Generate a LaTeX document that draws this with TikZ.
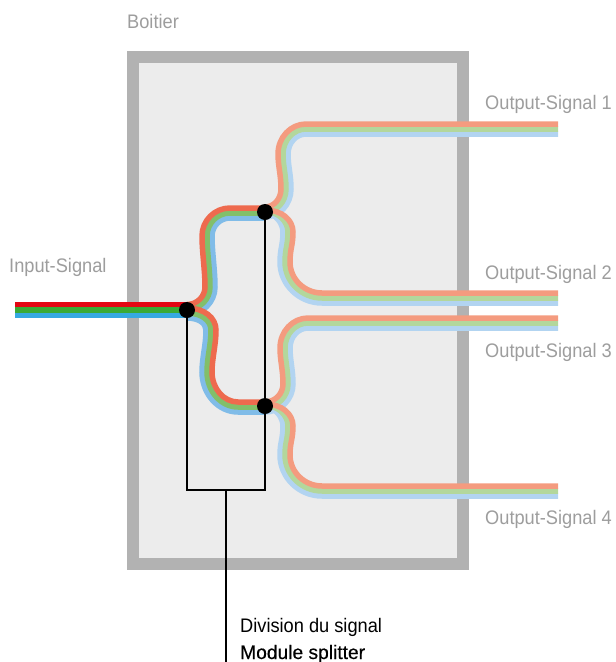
\documentclass[tikz,border=0pt]{standalone}
\usepackage{fontspec}
\setmainfont{Liberation Sans}[FakeStretch=0.93]
\newfontfamily\heavyfont{Liberation Sans}[FakeStretch=0.98,FakeBold=0.35]
\definecolor{wallc}{HTML}{B2B2B2}
\definecolor{innerc}{HTML}{ECECEC}
\definecolor{rA}{HTML}{E30613}\definecolor{gA}{HTML}{3AAA35}\definecolor{bA}{HTML}{36A9E1}
\definecolor{rB}{HTML}{EE6A4E}\definecolor{gB}{HTML}{82BF6A}\definecolor{bB}{HTML}{80BCE8}
\definecolor{rC}{HTML}{F49B7F}\definecolor{gC}{HTML}{B3D79C}\definecolor{bC}{HTML}{B2D4F1}
\definecolor{labelc}{HTML}{9D9D9D}
\tikzset{
 stripe/.style={line width=5.5pt,line cap=butt},
 dotnode/.style={circle,fill=black,inner sep=0pt,minimum size=16pt},
 lab/.style={anchor=base west,inner sep=0pt,text=labelc,font=\fontsize{19.6}{21}\selectfont},
 blab/.style={anchor=base west,inner sep=0pt,text=black,font=\fontsize{19.6}{21}\selectfont},
 hlab/.style={anchor=base west,inner sep=0pt,text=black,font=\heavyfont\fontsize{19.6}{21}\selectfont},
 wire/.style={draw=black,line width=1.9pt},
}
% #1 colour, #2 offset of the stripe across the band
\newcommand\branchUp[2]{\draw[stripe,#1]
 (187,{304.5+#2}) .. controls ({187+.55*(18+#2)},{304.5+#2}) and ({205+#2},{287+.55*(17.5+#2)}) .. ({205+#2},287)
 .. controls ({205+#2},270) and ({202+#2},252) .. ({202+#2},236)
 .. controls ({202+#2},{236-.55*(28-#2)}) and ({230-.55*(28-#2)},{208+#2}) .. (230,{208+#2}) -- (265,{208+#2});}
\newcommand\branchDown[2]{\draw[stripe,#1]
 (187,{308+#2}) .. controls ({190+.55*(26-#2)},{308+#2}) and ({216-#2},{330-.55*(22-#2)}) .. ({216-#2},330)
 .. controls ({216-#2},345) and ({212-#2},358) .. ({212-#2},372)
 .. controls ({212-#2},{372+.55*(30+#2)}) and ({238-.55*(26+#2)},{402+#2}) .. (238,{402+#2}) -- (265,{402+#2});}
% stripes that rise to an output: #3 start height, #4 output height, #5 x of the lower vertical
\newcommand\outRise[5]{\draw[stripe,#1]
 (265,{#3+#2}) .. controls ({265+.55*(#5-265+#2)},{#3+#2}) and ({#5+#2},{#3-18+.55*(18+#2)}) .. ({#5+#2},{#3-18})
 .. controls ({#5+#2},{#3-32}) and ({#5-3+#2},{#4+42}) .. ({#5-3+#2},{#4+30})
 .. controls ({#5-3+#2},{#4+30-.55*(30-#2)}) and ({#5+25-.55*(28-#2)},{#4+#2}) .. ({#5+25},{#4+#2}) -- (558,{#4+#2});}
% stripes that fall to an output: #3 start height, #4 output height
\newcommand\outFall[4]{\draw[stripe,#1]
 (265,{#3+1+.3*#2}) .. controls ({265+.6*(28-#2)},{#3+1+.3*#2}) and ({293-#2},{#3+23-.55*(22-.7*#2)}) .. ({293-#2},{#3+23})
 .. controls ({293-#2},{#3+36}) and ({290-#2},{#4-44}) .. ({290-#2},{#4-31})
 .. controls ({290-#2},{#4-31+.55*(31+#2)}) and ({322-.55*(32+#2)},{#4+#2}) .. (322,{#4+#2}) -- (558,{#4+#2});}
\begin{document}
\begin{tikzpicture}[x=1pt,y=-1pt]
\useasboundingbox (0,0) rectangle (616,662);
\draw[wallc,fill=innerc,line width=12pt] (133,57) rectangle (463,564);
% input
\draw[stripe,rA] (15,304.7) -- (187,304.7);
\draw[stripe,gA] (15,310) -- (187,310);
\draw[stripe,bA] (15,315.3) -- (187,315.3);
% branches
\branchUp{bB}{10}\branchUp{gB}{5}\branchUp{rB}{0}
\branchDown{bB}{10}\branchDown{gB}{5}\branchDown{rB}{0}
% outputs
\outRise{bC}{10}{207}{124}{281}\outRise{gC}{5}{207}{124}{281}\outRise{rC}{0}{207}{124}{281}
\outFall{bC}{10}{209}{293}\outFall{gC}{5}{209}{293}\outFall{rC}{0}{209}{293}
\outRise{bC}{10}{402}{318}{283}\outRise{gC}{5}{402}{318}{283}\outRise{rC}{0}{402}{318}{283}
\outFall{bC}{10}{403}{486}\outFall{gC}{5}{403}{486}\outFall{rC}{0}{403}{486}
% splitters
\node[dotnode] (s1) at (187,310) {};
\node[dotnode] (s2) at (265,212) {};
\node[dotnode] (s3) at (265,406) {};
\coordinate (c1) at (187,490);
\coordinate (c2) at (265,490);
\coordinate (j) at (226,490);
\coordinate (e) at (226,662);
\draw[wire] (s1.center) -- (c1) -- (c2) -- (s2.center);
\draw[wire] (j) -- (e);
% labels
\node[lab] (l0) at (127,28) {Boitier};
\node[lab] (l1) at (9,272) {Input-Signal};
\node[lab] (l2) at (485,109) {Output-Signal 1};
\node[lab] (l3) at (485,279) {Output-Signal 2};
\node[lab] (l4) at (485,357) {Output-Signal 3};
\node[lab] (l5) at (485,524) {Output-Signal 4};
\node[blab] (l6) at (240,632.5) {Division du signal};
\node[hlab] (l7) at (240,659) {Module splitter};
\end{tikzpicture}
\end{document}
